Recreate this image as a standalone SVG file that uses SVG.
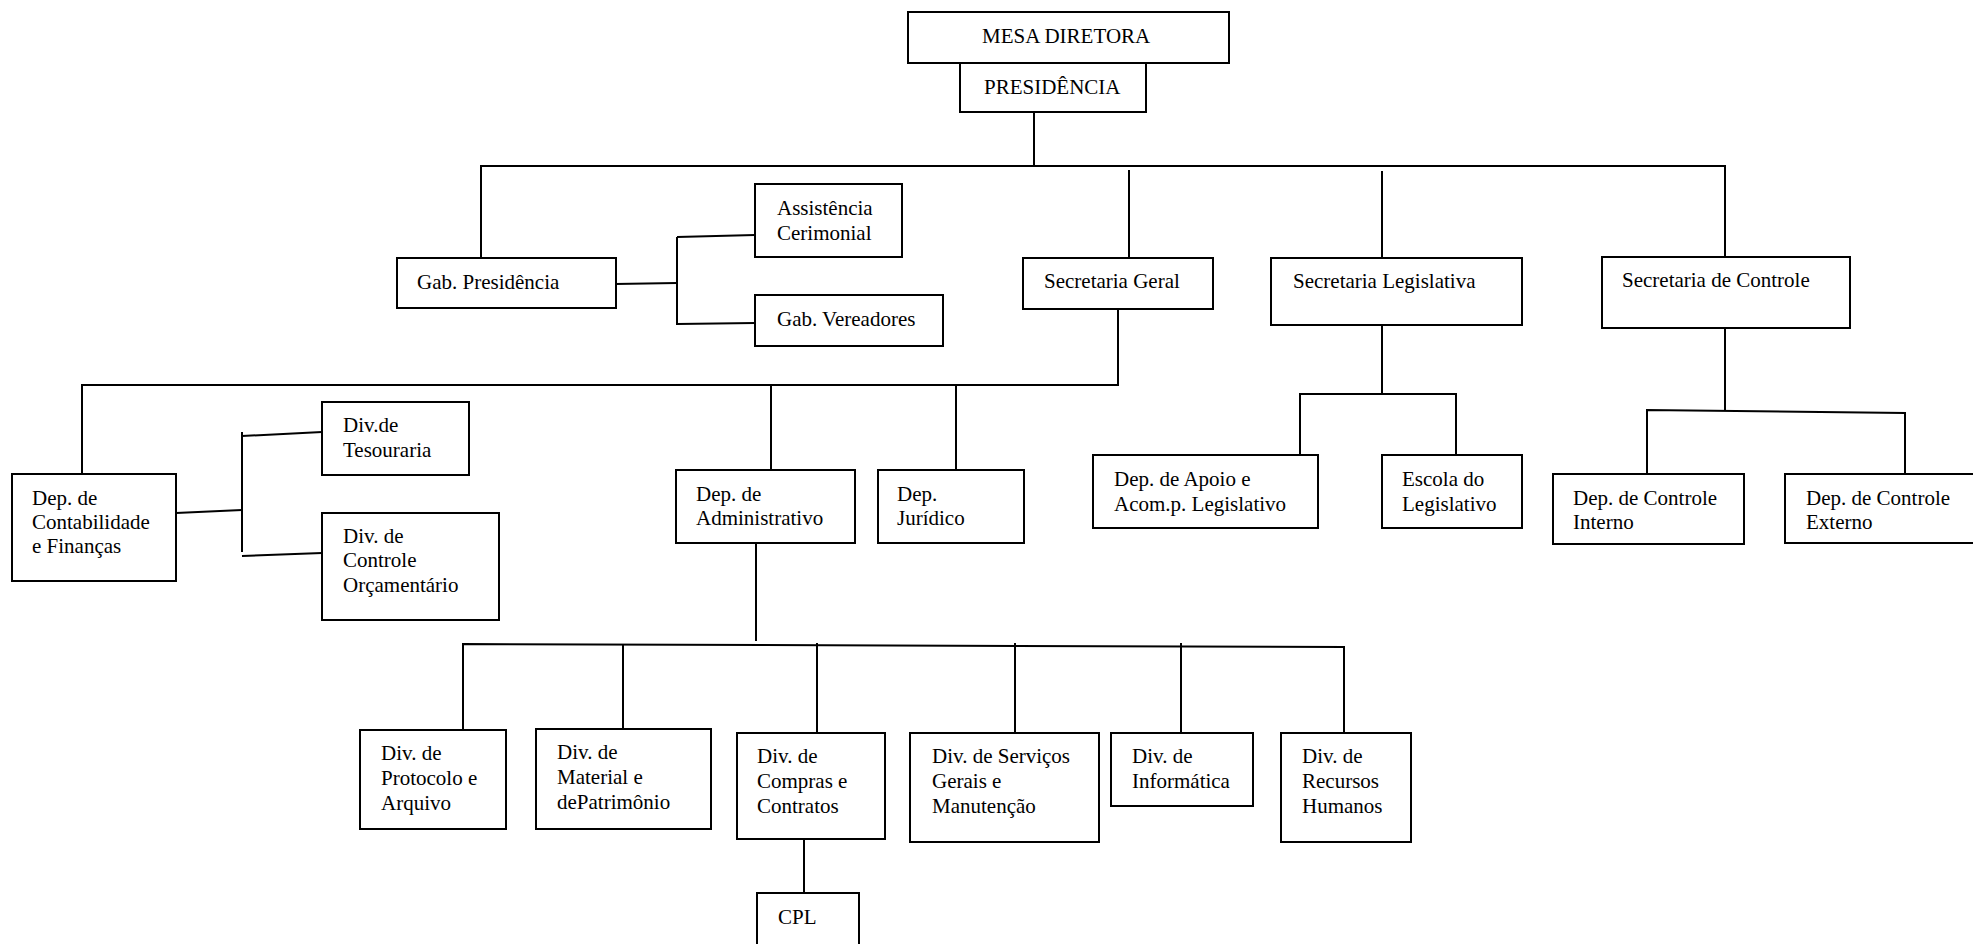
<svg xmlns="http://www.w3.org/2000/svg" width="1973" height="944" viewBox="0 0 1973 944">
<style>
.b{fill:#fff;stroke:#000;stroke-width:2}
.t{font-family:"Liberation Serif","Times New Roman",serif;font-size:21px;fill:#000}
.c{fill:none;stroke:#000;stroke-width:2}
</style>
<rect width="1973" height="944" fill="#fff"/>
<g id="connectors" class="c">
<line x1="1034" y1="112" x2="1034" y2="166"/>
<line x1="480" y1="166" x2="1726" y2="166"/>
<line x1="481" y1="166" x2="481" y2="258"/>
<line x1="1129" y1="170" x2="1129" y2="258"/>
<line x1="1382" y1="171" x2="1382" y2="258"/>
<line x1="1725" y1="166" x2="1725" y2="257"/>
<polyline points="615,284 677,283"/>
<line x1="677" y1="237" x2="677" y2="325"/>
<polyline points="677,237 755,235"/>
<polyline points="677,324 755,323"/>
<line x1="1118" y1="309" x2="1118" y2="385"/>
<line x1="81" y1="385" x2="1119" y2="385"/>
<line x1="82" y1="385" x2="82" y2="474"/>
<line x1="771" y1="385" x2="771" y2="470"/>
<line x1="956" y1="385" x2="956" y2="470"/>
<polyline points="176,513 242,510"/>
<line x1="242" y1="432" x2="242" y2="552"/>
<polyline points="242,436 322,432"/>
<polyline points="242,556 322,553"/>
<line x1="1382" y1="325" x2="1382" y2="394"/>
<polyline points="1300,455 1300,394 1456,394 1456,455"/>
<line x1="1725" y1="324" x2="1725" y2="411"/>
<polyline points="1647,474 1647,410 1905,413 1905,474"/>
<line x1="756" y1="543" x2="756" y2="641"/>
<polyline points="463,730 463,644 1344,647 1344,733"/>
<line x1="623" y1="644" x2="623" y2="729"/>
<line x1="817" y1="643" x2="817" y2="733"/>
<line x1="1015" y1="643" x2="1015" y2="733"/>
<line x1="1181" y1="643" x2="1181" y2="733"/>
<line x1="804" y1="839" x2="804" y2="893"/>
</g>
<g id="mesa"><rect class="b" x="908" y="12" width="321" height="51"/><text class="t" x="982" y="43">MESA DIRETORA</text></g>
<g id="presidencia"><rect class="b" x="960" y="63" width="186" height="49"/><text class="t" x="984" y="94">PRESIDÊNCIA</text></g>
<g id="gabpres"><rect class="b" x="397" y="258" width="219" height="50"/><text class="t" x="417" y="289">Gab. Presidência</text></g>
<g id="assist"><rect class="b" x="755" y="184" width="147" height="73"/><text class="t" x="777" y="215">Assistência</text><text class="t" x="777" y="240">Cerimonial</text></g>
<g id="gabver"><rect class="b" x="755" y="295" width="188" height="51"/><text class="t" x="777" y="326">Gab. Vereadores</text></g>
<g id="secgeral"><rect class="b" x="1023" y="258" width="190" height="51"/><text class="t" x="1044" y="288">Secretaria Geral</text></g>
<g id="secleg"><rect class="b" x="1271" y="258" width="251" height="67"/><text class="t" x="1293" y="288">Secretaria Legislativa</text></g>
<g id="secctrl"><rect class="b" x="1602" y="257" width="248" height="71"/><text class="t" x="1622" y="287">Secretaria de Controle</text></g>
<g id="depcontab"><rect class="b" x="12" y="474" width="164" height="107"/><text class="t" x="32" y="505">Dep. de</text><text class="t" x="32" y="529">Contabilidade</text><text class="t" x="32" y="553">e Finanças</text></g>
<g id="tesouraria"><rect class="b" x="322" y="402" width="147" height="73"/><text class="t" x="343" y="432">Div.de</text><text class="t" x="343" y="457">Tesouraria</text></g>
<g id="orcamentario"><rect class="b" x="322" y="513" width="177" height="107"/><text class="t" x="343" y="543">Div. de</text><text class="t" x="343" y="567">Controle</text><text class="t" x="343" y="592">Orçamentário</text></g>
<g id="depadm"><rect class="b" x="676" y="470" width="179" height="73"/><text class="t" x="696" y="501">Dep. de</text><text class="t" x="696" y="525">Administrativo</text></g>
<g id="juridico"><rect class="b" x="878" y="470" width="146" height="73"/><text class="t" x="897" y="501">Dep.</text><text class="t" x="897" y="525">Jurídico</text></g>
<g id="apoio"><rect class="b" x="1093" y="455" width="225" height="73"/><text class="t" x="1114" y="486">Dep. de Apoio e</text><text class="t" x="1114" y="511">Acom.p. Legislativo</text></g>
<g id="escola"><rect class="b" x="1382" y="455" width="140" height="73"/><text class="t" x="1402" y="486">Escola do</text><text class="t" x="1402" y="511">Legislativo</text></g>
<g id="ctrlint"><rect class="b" x="1553" y="474" width="191" height="70"/><text class="t" x="1573" y="505">Dep. de Controle</text><text class="t" x="1573" y="529">Interno</text></g>
<g id="ctrlext"><rect class="b" x="1785" y="474" width="200" height="69"/><text class="t" x="1806" y="505">Dep. de Controle</text><text class="t" x="1806" y="529">Externo</text></g>
<g id="protocolo"><rect class="b" x="360" y="730" width="146" height="99"/><text class="t" x="381" y="760">Div. de</text><text class="t" x="381" y="785">Protocolo e</text><text class="t" x="381" y="810">Arquivo</text></g>
<g id="material"><rect class="b" x="536" y="729" width="175" height="100"/><text class="t" x="557" y="759">Div. de</text><text class="t" x="557" y="784">Material e</text><text class="t" x="557" y="809">dePatrimônio</text></g>
<g id="compras"><rect class="b" x="737" y="733" width="148" height="106"/><text class="t" x="757" y="763">Div. de</text><text class="t" x="757" y="788">Compras e</text><text class="t" x="757" y="813">Contratos</text></g>
<g id="cpl"><rect class="b" x="757" y="893" width="102" height="60"/><text class="t" x="778" y="924">CPL</text></g>
<g id="servicos"><rect class="b" x="910" y="733" width="189" height="109"/><text class="t" x="932" y="763">Div. de Serviços</text><text class="t" x="932" y="788">Gerais e</text><text class="t" x="932" y="813">Manutenção</text></g>
<g id="informatica"><rect class="b" x="1111" y="733" width="142" height="73"/><text class="t" x="1132" y="763">Div. de</text><text class="t" x="1132" y="788">Informática</text></g>
<g id="rh"><rect class="b" x="1281" y="733" width="130" height="109"/><text class="t" x="1302" y="763">Div. de</text><text class="t" x="1302" y="788">Recursos</text><text class="t" x="1302" y="813">Humanos</text></g>
</svg>
